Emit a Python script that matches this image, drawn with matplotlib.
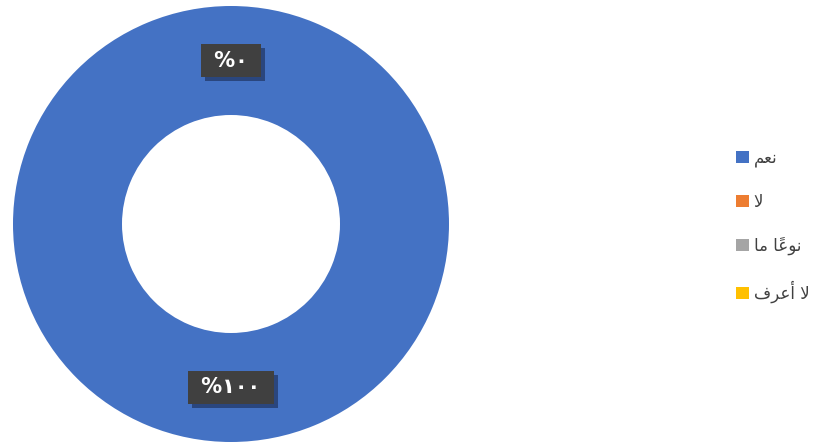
import matplotlib
matplotlib.use("Agg")
import matplotlib.pyplot as plt
import matplotlib.patheffects as pe
import numpy as np

plt.rcParams['font.family'] = ['DejaVu Sans']

# Arabic labels written in visual (presentation-form) order so they render shaped
categories = ["\uFEE2\uFECC\uFEE7",                 # نعم
              "\uFEFB",                             # لا
              "\uFE8E\uFEE3 \uFE8E\u064B\uFECB\uFEEE\uFEE7",  # نوعاً ما
              "\uFED1\uFEAE\uFECB\uFE83 \uFEFB"]    # لا أعرف
values = [100, 0, 0, 0]
colors = ["#4472C4", "#ED7D31", "#A5A5A5", "#FFC000"]

arabic_digits = str.maketrans("0123456789", "٠١٢٣٤٥٦٧٨٩")

W, H = 827, 443
fig = plt.figure(figsize=(W / 100, H / 100), dpi=100)
cx, cy, R = 231, 224, 218
ax = fig.add_axes([(cx - R) / W, (H - cy - R) / H, 2 * R / W, 2 * R / H])

wedges, _ = ax.pie(values, colors=colors, startangle=90, counterclock=False,
                   radius=1.0, wedgeprops=dict(width=0.50, edgecolor='none'))
ax.set_xlim(-1, 1)
ax.set_ylim(-1, 1)
ax.set_aspect('equal')
ax.axis('off')

total = sum(values)
start = 90.0
placed = set()
for v in values:
    sweep = 360.0 * v / total
    mid = np.deg2rad(start - sweep / 2)
    start -= sweep
    lbl = " %" + str(int(round(v))).translate(arabic_digits) + " "
    key = (round(np.cos(mid), 3), round(np.sin(mid), 3))
    if key in placed:
        continue
    placed.add(key)
    r = 0.75
    t = ax.text(r * np.cos(mid), r * np.sin(mid), lbl,
                ha='center', va='center', color='white', fontsize=15,
                fontweight='bold',
                bbox=dict(boxstyle='square,pad=0.3', facecolor='#404040',
                          edgecolor='none'))
    t.get_bbox_patch().set_path_effects([
        pe.SimplePatchShadow(offset=(3, -3), shadow_rgbFace='#1a2a50', alpha=0.6),
        pe.Normal()])

leg = fig.legend(wedges, categories, loc='center left',
                 bbox_to_anchor=(721 / W, 1 - 226 / H), frameon=False,
                 fontsize=12, labelspacing=1.55, handlelength=0.75,
                 handleheight=0.75, handletextpad=0.3)
for txt in leg.get_texts():
    txt.set_color('#404040')

fig.savefig("out.png", dpi=100)
